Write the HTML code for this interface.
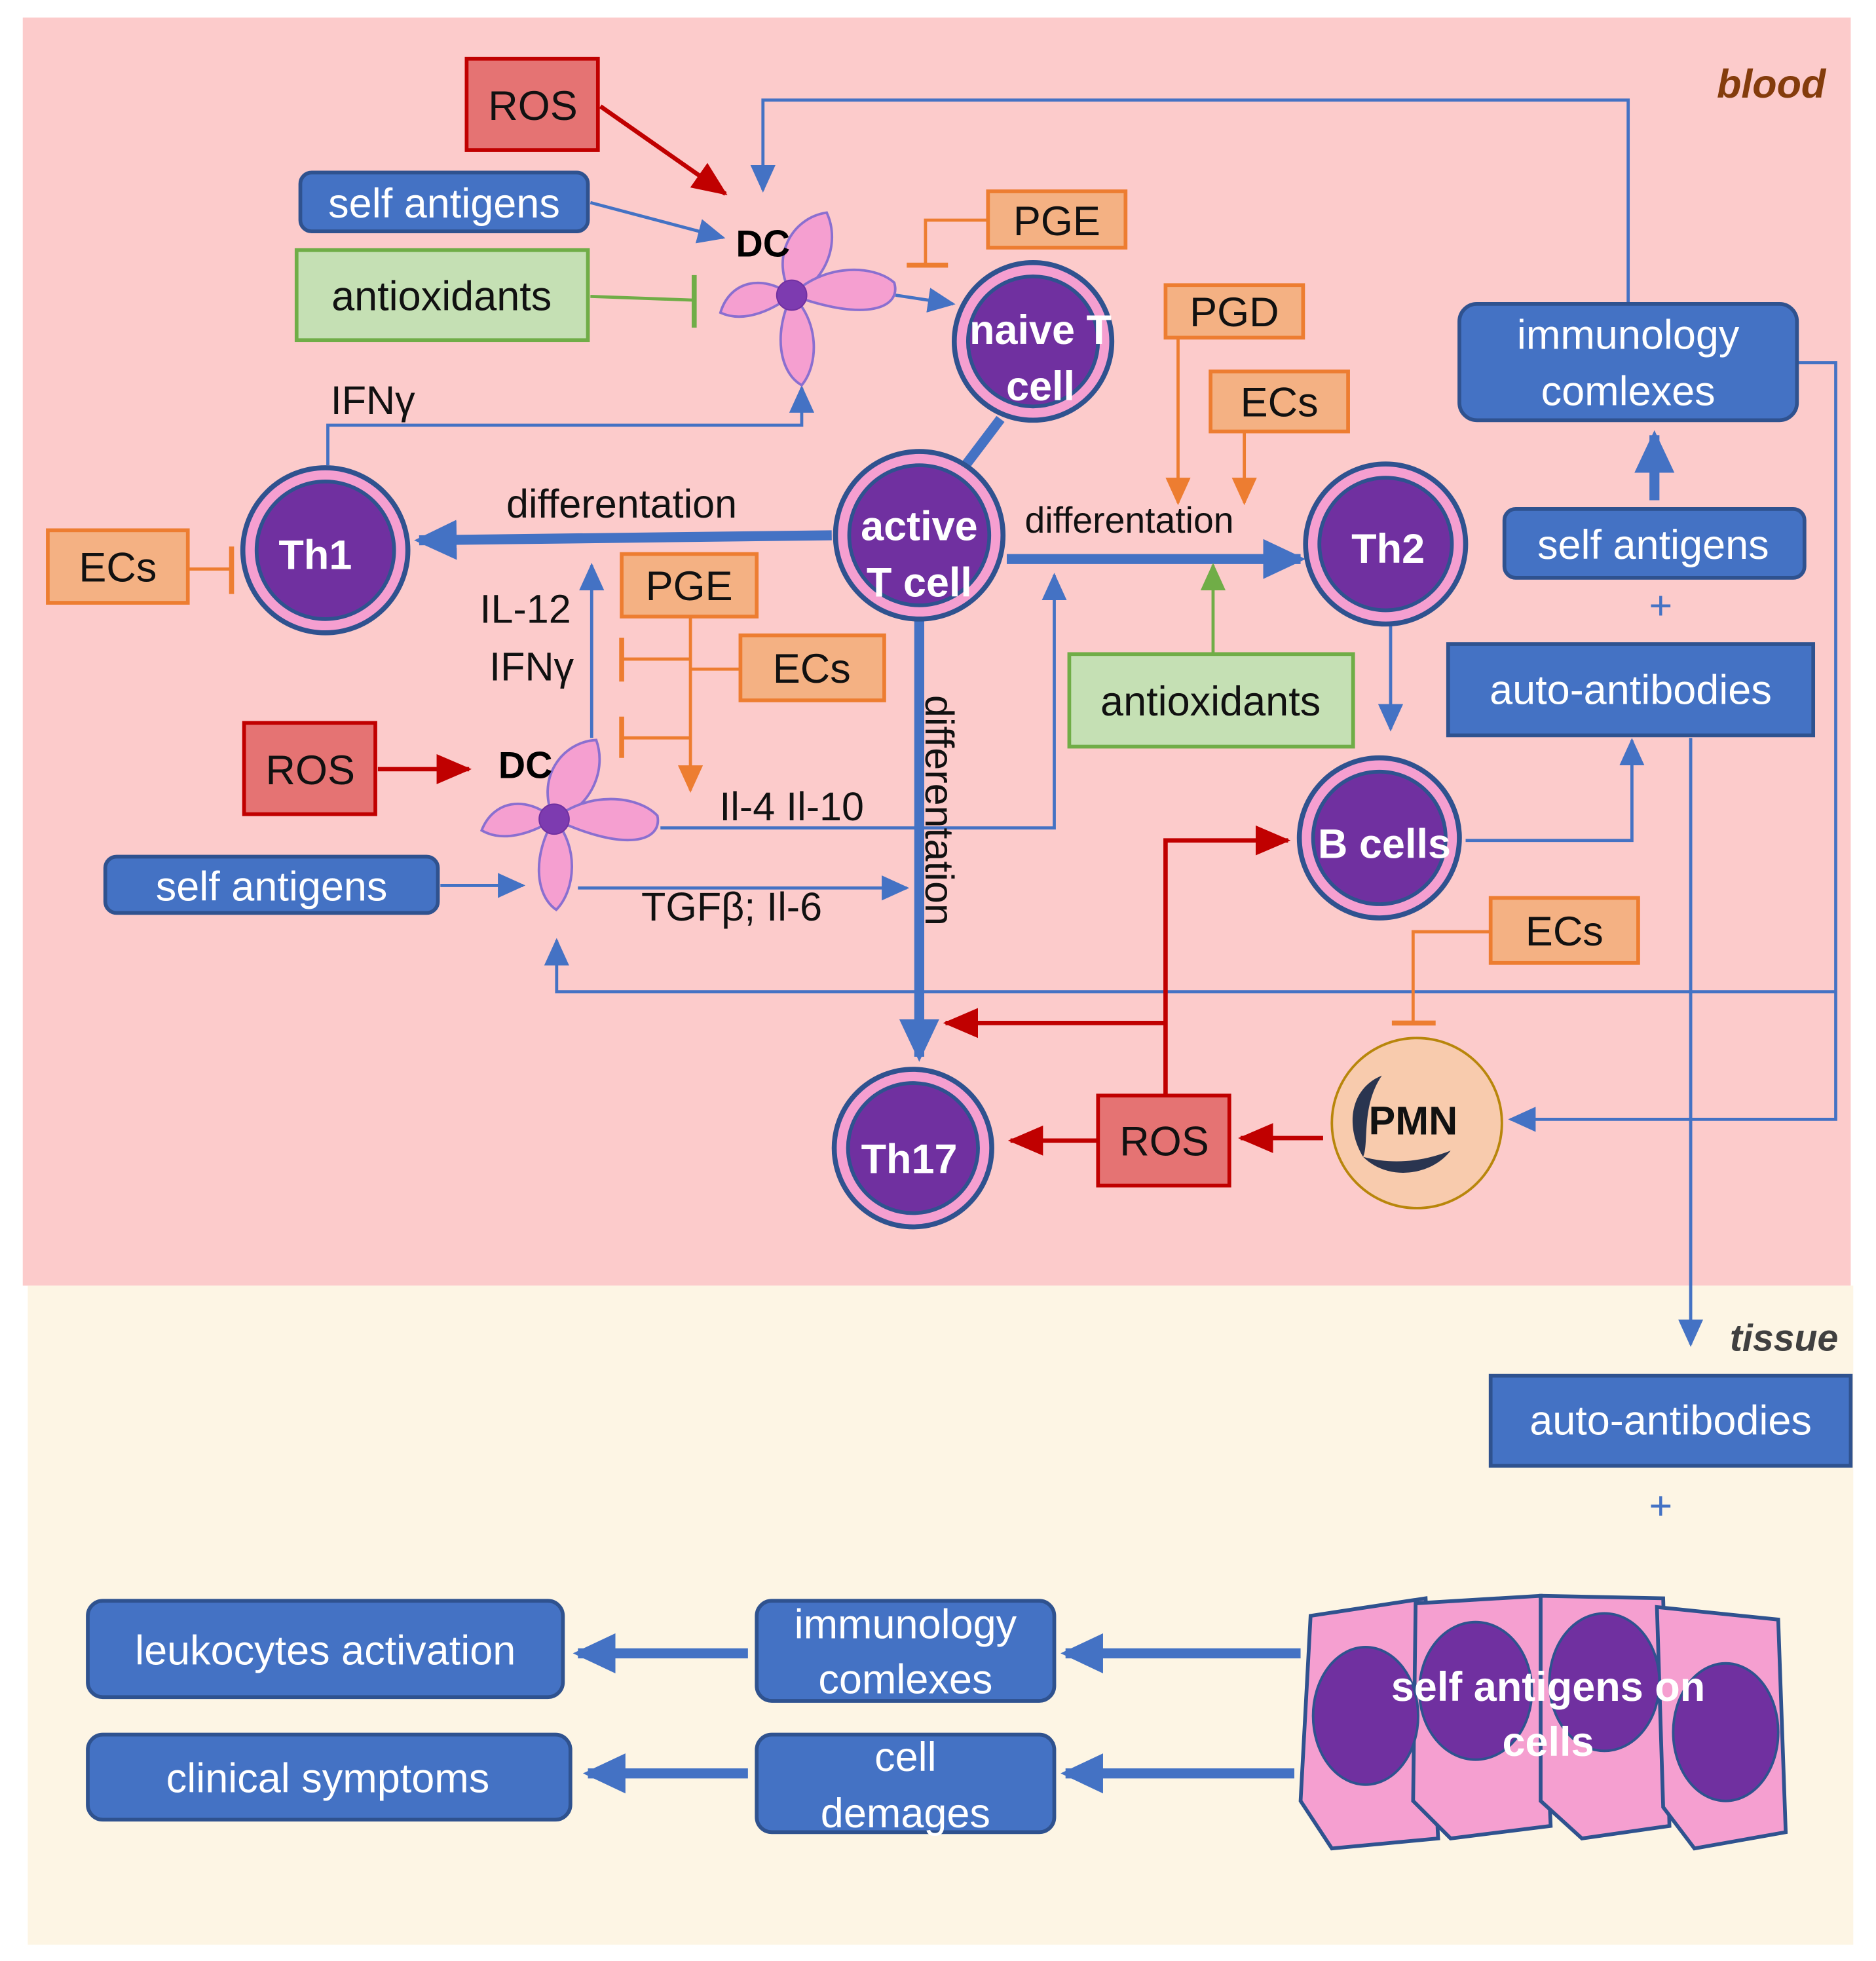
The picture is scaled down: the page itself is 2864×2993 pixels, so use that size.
<!DOCTYPE html>
<html><head><meta charset="utf-8"><style>
html,body{margin:0;padding:0;background:#fff}
svg{display:block}
text{font-family:"Liberation Sans",sans-serif}
.bt{fill:#fff;font-size:33px;text-anchor:middle}
.kt{fill:#111;font-size:33px;text-anchor:middle}
.ct{fill:#fff;font-size:33px;font-weight:bold;text-anchor:middle}
</style></head><body>
<svg width="2864" height="2993" viewBox="0 0 1500 1568" xmlns="http://www.w3.org/2000/svg">
<defs>
<marker id="ab" markerWidth="24" markerHeight="24" refX="20" refY="12" orient="auto" markerUnits="userSpaceOnUse"><path d="M0,2 L22,12 L0,22 Z" fill="#4472c4"/></marker>
<marker id="abL" markerWidth="36" markerHeight="36" refX="30" refY="18" orient="auto" markerUnits="userSpaceOnUse"><path d="M0,2 L34,18 L0,34 Z" fill="#4472c4"/></marker>
<marker id="ar" markerWidth="30" markerHeight="30" refX="26" refY="15" orient="auto" markerUnits="userSpaceOnUse"><path d="M0,3 L28,15 L0,27 Z" fill="#c00000"/></marker>
<marker id="ao" markerWidth="24" markerHeight="24" refX="20" refY="12" orient="auto" markerUnits="userSpaceOnUse"><path d="M0,2 L22,12 L0,22 Z" fill="#ed7d31"/></marker>
<marker id="ag" markerWidth="24" markerHeight="24" refX="20" refY="12" orient="auto" markerUnits="userSpaceOnUse"><path d="M0,2 L22,12 L0,22 Z" fill="#70ad47"/></marker>
<g id="petals">
<path d="M0,0 C-18,-30 0,-62 28,-66 C40,-40 25,-8 0,0Z"/>
<path d="M0,0 C25,-25 65,-25 82,-10 C88,10 60,22 0,0Z"/>
<path d="M0,0 C22,20 22,55 8,72 C-10,62 -15,30 0,0Z"/>
<path d="M0,0 C-25,-18 -50,-10 -57,14 C-40,22 -18,14 0,0Z"/>
</g>
</defs>
<rect x="18" y="14" width="1462" height="1014" fill="#fccbcb"/>
<rect x="22" y="1028" width="1460" height="527" fill="#fdf5e4"/>
<text x="1460" y="78" font-size="32" font-weight="bold" font-style="italic" fill="#843c0c" text-anchor="end">blood</text>
<text x="1470" y="1080" font-size="30" font-weight="bold" font-style="italic" fill="#404040" text-anchor="end">tissue</text>

<g fill="none" stroke="#4472c4" stroke-width="2.5">
<path d="M1302,243 V80 H610 V152" marker-end="url(#ab)"/>
<path d="M472,162 L578,190" marker-end="url(#ab)"/>
<path d="M716,236 L762,243" marker-end="url(#ab)"/>
<path d="M262,372 V340 H641 V310" marker-end="url(#ab)"/>
<path d="M1438,290 H1468 V895 H1208" marker-end="url(#ab)"/>
<path d="M1468,793 H445 V752" marker-end="url(#ab)"/>
<path d="M473,590 V452" marker-end="url(#ab)"/>
<path d="M352,708 H418" marker-end="url(#ab)"/>
<path d="M528,662 H843 V460" marker-end="url(#ab)"/>
<path d="M462,710 H725" marker-end="url(#ab)"/>
<path d="M1112,500 V583" marker-end="url(#ab)"/>
<path d="M1172,672 H1305 V592" marker-end="url(#ab)"/>
<path d="M1352,590 V1075" marker-end="url(#ab)"/>
</g>
<g fill="none" stroke="#4472c4" stroke-width="8">
<path d="M800,335 L772,372"/>
<path d="M665,428 L335,432" marker-end="url(#abL)"/>
<path d="M805,447 L1040,447" marker-end="url(#abL)"/>
<path d="M735,495 V845" marker-end="url(#abL)"/>
<path d="M1323,400 V348" marker-end="url(#abL)"/>
<path d="M598,1322 H462" marker-end="url(#abL)"/>
<path d="M1040,1322 H852" marker-end="url(#abL)"/>
<path d="M598,1418 H470" marker-end="url(#abL)"/>
<path d="M1035,1418 H852" marker-end="url(#abL)"/>
</g>
<g fill="none" stroke="#c00000" stroke-width="3.5">
<path d="M480,85 L580,155" marker-end="url(#ar)"/>
<path d="M302,615 H375" marker-end="url(#ar)"/>
<path d="M1058,910 H992" marker-end="url(#ar)"/>
<path d="M878,912 H808" marker-end="url(#ar)"/>
<path d="M932,876 V672 H1030" marker-end="url(#ar)"/>
<path d="M932,818 H756" marker-end="url(#ar)"/>
</g>
<g fill="none" stroke="#ed7d31" stroke-width="2.5">
<path d="M790,176 H740 V212"/><path d="M725,212 H758" stroke-width="4"/>
<path d="M552,493 V632" marker-end="url(#ao)"/>
<path d="M592,535 H552"/>
<path d="M552,527 H497"/><path d="M497,510 V545" stroke-width="4"/>
<path d="M552,590 H497"/><path d="M497,573 V606" stroke-width="4"/>
<path d="M150,455 H185"/><path d="M185,437 V475" stroke-width="4"/>
<path d="M942,270 V402" marker-end="url(#ao)"/>
<path d="M995,345 V402" marker-end="url(#ao)"/>
<path d="M1192,745 H1130 V818"/><path d="M1113,818 H1148" stroke-width="4"/>
</g>
<g fill="none" stroke="#70ad47" stroke-width="2.5">
<path d="M472,237 L555,240"/><path d="M555,220 V262" stroke-width="4"/>
<path d="M970,523 V452" marker-end="url(#ag)"/>
</g>

<g fill="#f59fd0" stroke="#8a6fd0" stroke-width="2">
<use href="#petals" transform="translate(633,236)"/>
<use href="#petals" transform="translate(443,655) rotate(5)"/>
</g>
<circle cx="633" cy="236" r="12" fill="#7d3bb0" stroke="#7030a0"/>
<circle cx="443" cy="655" r="12" fill="#7d3bb0" stroke="#7030a0"/>
<text x="610" y="205" font-size="30" font-weight="bold" fill="#000" text-anchor="middle">DC</text>
<text x="420" y="622" font-size="30" font-weight="bold" fill="#000" text-anchor="middle">DC</text>

<g stroke="#2f528f" stroke-width="4" fill="#f59fd0">
<circle cx="826" cy="273" r="63"/><circle cx="735" cy="428" r="67"/><circle cx="260" cy="440" r="66"/>
<circle cx="1108" cy="435" r="64"/><circle cx="1103" cy="670" r="64"/><circle cx="730" cy="918" r="63"/>
</g>
<g stroke="#2f528f" stroke-width="3" fill="#7030a0">
<circle cx="826" cy="273" r="52"/><circle cx="735" cy="428" r="56"/><circle cx="260" cy="440" r="55"/>
<circle cx="1108" cy="435" r="53"/><circle cx="1103" cy="670" r="53"/><circle cx="730" cy="918" r="52"/>
</g>
<text class="ct" x="832" y="275">naive T</text><text class="ct" x="832" y="320">cell</text>
<text class="ct" x="735" y="432">active</text><text class="ct" x="735" y="477">T cell</text>
<text class="ct" x="252" y="455">Th1</text>
<text class="ct" x="1110" y="450">Th2</text>
<text class="ct" x="1107" y="686">B cells</text>
<text class="ct" x="727" y="938">Th17</text>

<circle cx="1133" cy="898" r="68" fill="#f8cbad" stroke="#b8860b" stroke-width="2"/>
<path d="M1105,860 C1080,870 1075,900 1090,925 C1095,915 1088,885 1105,860 Z" fill="#2a3550"/>
<path d="M1090,925 C1110,945 1145,940 1160,920 C1140,928 1115,932 1090,925Z" fill="#2a3550"/>
<text x="1130" y="907" font-size="32" font-weight="bold" fill="#111" text-anchor="middle">PMN</text>

<g stroke="#c00000" stroke-width="3" fill="#e57373">
<rect x="373" y="47" width="105" height="73"/><rect x="195" y="578" width="105" height="73"/><rect x="878" y="876" width="105" height="72"/>
</g>
<text class="kt" x="426" y="96">ROS</text><text class="kt" x="248" y="627">ROS</text><text class="kt" x="931" y="924">ROS</text>
<g stroke="#ed7d31" stroke-width="3" fill="#f4b183">
<rect x="790" y="153" width="110" height="45"/><rect x="497" y="443" width="108" height="50"/><rect x="592" y="508" width="115" height="52"/>
<rect x="38" y="424" width="112" height="58"/><rect x="932" y="228" width="110" height="42"/><rect x="968" y="297" width="110" height="48"/>
<rect x="1192" y="718" width="118" height="52"/>
</g>
<text class="kt" x="845" y="188">PGE</text><text class="kt" x="551" y="480">PGE</text><text class="kt" x="649" y="546">ECs</text>
<text class="kt" x="94" y="465">ECs</text><text class="kt" x="987" y="261">PGD</text><text class="kt" x="1023" y="333">ECs</text>
<text class="kt" x="1251" y="756">ECs</text>
<g stroke="#70ad47" stroke-width="3" fill="#c5e0b4">
<rect x="237" y="200" width="233" height="72"/><rect x="855" y="523" width="227" height="74"/>
</g>
<text class="kt" x="353" y="248">antioxidants</text><text class="kt" x="968" y="572">antioxidants</text>
<g stroke="#2f528f" stroke-width="3" fill="#4472c4">
<rect x="240" y="138" width="230" height="47" rx="9"/><rect x="84" y="685" width="266" height="45" rx="9"/>
<rect x="1167" y="243" width="270" height="93" rx="14"/><rect x="1203" y="407" width="240" height="55" rx="9"/>
<rect x="1158" y="515" width="292" height="73"/><rect x="1192" y="1100" width="288" height="72"/>
<rect x="70" y="1280" width="380" height="77" rx="12"/><rect x="70" y="1387" width="386" height="68" rx="12"/>
<rect x="605" y="1280" width="238" height="80" rx="12"/><rect x="605" y="1387" width="238" height="78" rx="12"/>
</g>
<text class="bt" x="355" y="174">self antigens</text><text class="bt" x="217" y="720">self antigens</text>
<text class="bt" x="1302" y="279">immunology</text><text class="bt" x="1302" y="324">comlexes</text>
<text class="bt" x="1322" y="447">self antigens</text>
<text class="bt" x="1304" y="563">auto-antibodies</text><text class="bt" x="1336" y="1147">auto-antibodies</text>
<text class="bt" x="260" y="1331">leukocytes activation</text><text class="bt" x="262" y="1433">clinical symptoms</text>
<text class="bt" x="724" y="1310">immunology</text><text class="bt" x="724" y="1354">comlexes</text>
<text class="bt" x="724" y="1416">cell</text><text class="bt" x="724" y="1461">demages</text>
<text x="1328" y="495" font-size="32" fill="#4472c4" text-anchor="middle">+</text>
<text x="1328" y="1215" font-size="32" fill="#4472c4" text-anchor="middle">+</text>

<g fill="#111" font-size="32">
<text x="298" y="331" text-anchor="middle">IFNγ</text>
<text x="497" y="414" text-anchor="middle">differentation</text>
<text x="903" y="426" text-anchor="middle" font-size="29">differentation</text>
<text x="420" y="498" text-anchor="middle">IL-12</text>
<text x="425" y="544" text-anchor="middle">IFNγ</text>
<text x="633" y="656" text-anchor="middle">Il-4 Il-10</text>
<text x="585" y="736" text-anchor="middle">TGFβ; Il-6</text>
<text transform="translate(740,648) rotate(90)" text-anchor="middle">differentation</text>
</g>

<g fill="#f59fd0" stroke="#2f528f" stroke-width="3">
<path d="M1048,1292 L1140,1278 L1150,1470 L1065,1478 L1040,1440 Z"/>
<path d="M1132,1282 L1232,1276 L1240,1460 L1160,1470 L1130,1440 Z"/>
<path d="M1232,1276 L1330,1278 L1335,1460 L1265,1470 L1232,1440 Z"/>
<path d="M1325,1285 L1422,1295 L1428,1465 L1355,1478 L1330,1445 Z"/>
</g>
<g fill="#7030a0" stroke="#2f528f" stroke-width="2">
<ellipse cx="1092" cy="1372" rx="42" ry="55"/><ellipse cx="1180" cy="1352" rx="45" ry="55"/>
<ellipse cx="1283" cy="1345" rx="44" ry="55"/><ellipse cx="1380" cy="1385" rx="42" ry="55"/>
</g>
<text class="ct" x="1238" y="1360">self antigens on</text><text class="ct" x="1238" y="1404">cells</text>
</svg>
</body></html>
